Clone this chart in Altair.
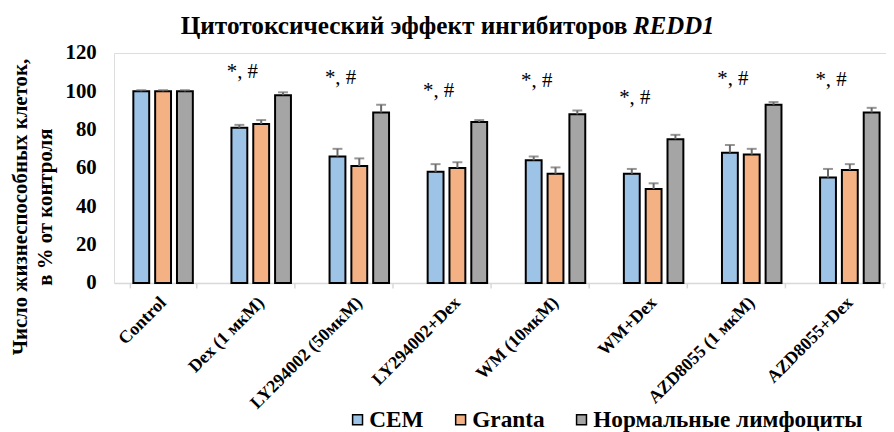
import altair as alt
import pandas as pd

categories = ["Control", "Dex (1 мкМ)", "LY294002 (50мкМ)", "LY294002+Dex",
              "WM (10мкМ)", "WM+Dex", "AZD8055 (1 мкМ)", "AZD8055+Dex"]
series = ["CEM", "Granta", "Нормальные лимфоциты"]
colors = ["#9DC3E6", "#F4B183", "#A5A5A5"]

cem = [100, 81, 66, 58, 64, 57, 68, 55]
cem_err = [0.6, 1.5, 4, 4, 2, 2.5, 4, 4.5]
granta = [100, 83, 61, 60, 57, 49, 67, 59]
granta_err = [0.6, 2, 4, 3, 3.3, 3, 3, 3]
normal = [100, 98, 89, 84, 88, 75, 93, 89]
normal_err = [0.6, 1.5, 4, 1, 2, 2.3, 1.4, 2.4]

sig_categories = categories[1:]
sig_text = ["*, #"] * 7
sig_y = [110, 106.7, 100, 105.2, 96.4, 106.4, 105.8]

title_main = "Цитотоксический эффект ингибиторов"
title_italic = "REDD1"
y_title = ["Число жизнеспособных клеток,", "в % от контроля"]

rows = []
for s, vals, errs in zip(series, [cem, granta, normal], [cem_err, granta_err, normal_err]):
    for c, v, e in zip(categories, vals, errs):
        rows.append({"cat": c, "series": s, "value": v, "top": v + e})
df = pd.DataFrame(rows)
sig_df = pd.DataFrame({"cat": sig_categories, "t": sig_text, "y": sig_y})

FONT = "Liberation Serif"

x_enc = alt.X("cat:N", sort=categories,
              scale=alt.Scale(range=[0, 792], paddingInner=0.333, paddingOuter=0.1665),
              axis=alt.Axis(title=None, labelAngle=-45, labelAlign="right", labelBaseline="middle",
                            labelFont=FONT, labelFontSize=18, labelFontWeight="bold",
                            labelColor="black", labelPadding=12, labelOverlap=False,
                            labelLimit=0,
                            domainColor="#d9d9d9", domainWidth=1.5, tickColor="#d9d9d9",
                            tickSize=5, tickWidth=1.5, tickBand="extent"))
xo_enc = alt.XOffset("series:N", sort=series,
                     scale=alt.Scale(paddingInner=0.273, paddingOuter=0.136))
y_scale = alt.Scale(domain=[0, 120])
y_axis = alt.Axis(values=[0, 20, 40, 60, 80, 100, 120], grid=False, domain=False,
                  ticks=False, labelFont=FONT, labelFontSize=21, labelFontWeight="bold",
                  labelColor="black", labelPadding=18, labelOverlap=False,
                  title=y_title, titleFont=FONT, titleFontSize=21,
                  titleFontWeight="bold", titleColor="black", titleAngle=-90,
                  titleX=-105, titleY=155, titleBaseline="top", titleAlign="center",
                  titleLineHeight=25, titleLimit=0)

bars = alt.Chart(df).mark_bar(stroke="black", strokeWidth=2).encode(
    x=x_enc,
    xOffset=xo_enc,
    y=alt.Y("value:Q", scale=y_scale, axis=y_axis),
    color=alt.Color("series:N", sort=series,
                    scale=alt.Scale(domain=series, range=colors),
                    legend=alt.Legend(title=None, orient="none", direction="horizontal",
                                      legendX=234, legendY=358, symbolType="square",
                                      symbolSize=100, symbolStrokeColor="black",
                                      symbolStrokeWidth=1.5, symbolOpacity=1,
                                      labelFont=FONT, labelFontSize=23.5, labelFontWeight="bold",
                                      labelColor="black", labelOffset=0, columnPadding=25,
                                      labelLimit=0, padding=0)),
)

err_rule = alt.Chart(df).mark_rule(color="#6a6a6a", strokeWidth=2).encode(
    x=x_enc, xOffset=xo_enc,
    y=alt.Y("value:Q", scale=y_scale, axis=y_axis), y2="top:Q",
)
err_cap = alt.Chart(df).mark_tick(color="#6a6a6a", thickness=2, size=10).encode(
    x=x_enc, xOffset=xo_enc,
    y=alt.Y("top:Q", scale=y_scale, axis=y_axis),
)

sig = alt.Chart(sig_df).mark_text(font=FONT, fontSize=21, color="black",
                                  baseline="middle", dx=-19).encode(
    x=x_enc,
    y=alt.Y("y:Q", scale=y_scale, axis=y_axis),
    text="t:N",
)

t_main = alt.Chart(pd.DataFrame({"t": [title_main]})).mark_text(
    font=FONT, fontSize=25.5, fontWeight="bold", color="black", align="right",
    baseline="alphabetic").encode(x=alt.value(518), y=alt.value(-19), text="t:N")
t_ital = alt.Chart(pd.DataFrame({"t": [title_italic]})).mark_text(
    font=FONT, fontSize=25, fontWeight="bold", fontStyle="italic", color="black",
    align="left", baseline="alphabetic").encode(x=alt.value(524), y=alt.value(-19), text="t:N")

chart = alt.layer(bars, err_rule, err_cap, sig, t_main, t_ital).properties(
    width=779, height=232,
    autosize=alt.AutoSizeParams(type="none"),
    padding={"left": 107, "top": 43.5, "right": 0, "bottom": 148.5},
).configure_view(stroke=None).configure(background="white")

chart.save("out.html", embed_options={"renderer": "svg", "actions": False})
